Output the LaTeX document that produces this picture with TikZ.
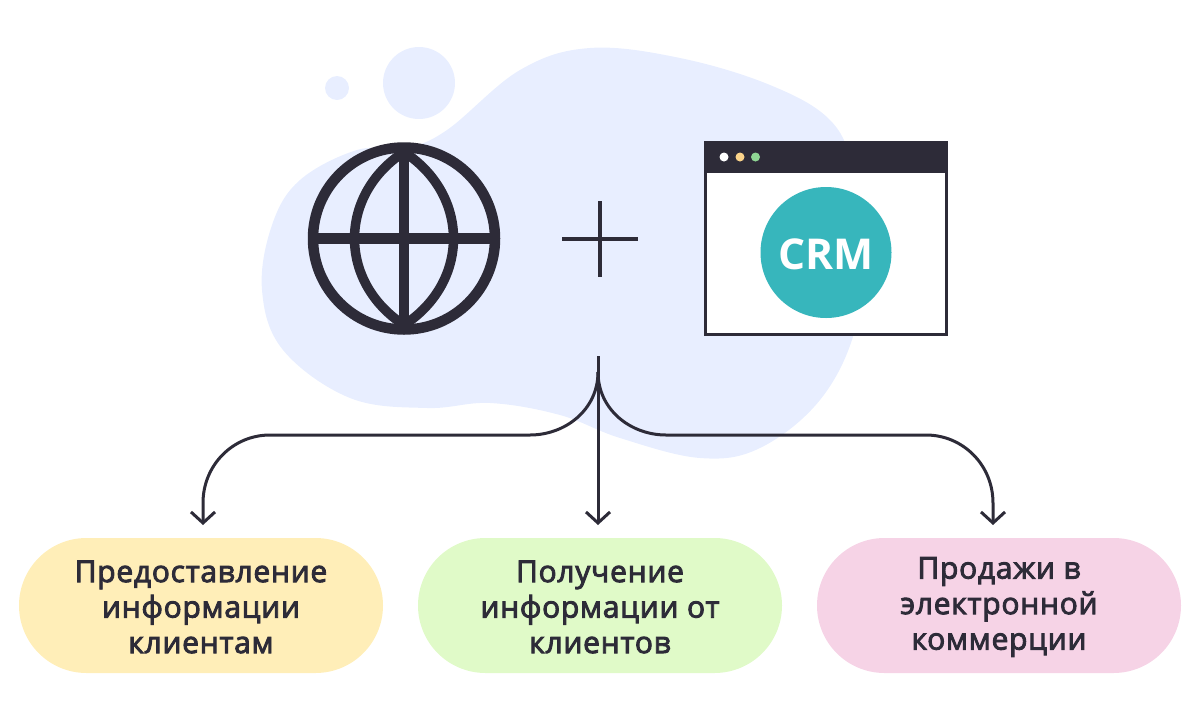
\documentclass[tikz,border=0pt]{standalone}
\usepackage{fontspec}
\setmainfont{Open Sans}
\newfontfamily\semib{Open Sans}[FakeBold=3,LetterSpace=2.4]
\usetikzlibrary{arrows.meta}
\definecolor{ink}{HTML}{2D2B38}
\definecolor{blob}{HTML}{E8EEFF}
\definecolor{teal}{HTML}{37B6BC}
\definecolor{pillY}{HTML}{FFEEB8}
\definecolor{pillG}{HTML}{E0FAC8}
\definecolor{pillP}{HTML}{F6D3E6}
\definecolor{dotY}{HTML}{FBD38A}
\definecolor{dotG}{HTML}{8FD694}
\tikzset{
  pill/.style={rounded corners=67.5pt,minimum width=364pt,minimum height=135pt,inner sep=0pt,align=center},
  pilltext/.style={align=center,inner sep=0pt,text=ink,font=\fontsize{30}{35.5}\selectfont\semib},
  link/.style={draw=ink,line width=3pt,-{Straight Barb[length=11pt,width=24pt,line width=3pt]}},
  globeline/.style={draw=ink,line width=10.5pt},
  plusline/.style={draw=ink,line width=4pt},
  dot/.style={circle,inner sep=0pt,minimum size=9pt},
}
\begin{document}
\begin{tikzpicture}[x=1pt,y=-1pt]
\useasboundingbox (0,0) rectangle (1200,702);
% blobs
\fill[blob] plot[smooth cycle,tension=0.62] coordinates {(447,130)(520,70)(590,48)(680,58)(770,85)(830,120)(853,170)(862,250)(855,330)(820,400)(760,448)(700,458)(620,438)(560,415)(490,403)(427,408)(350,398)(283,350)(262,290)(272,225)(300,180)(357,150)(405,148)};
\node[circle,fill=blob,minimum size=72pt,inner sep=0pt] (bubbleA) at (419,83) {};
\node[circle,fill=blob,minimum size=24pt,inner sep=0pt] (bubbleB) at (337,88) {};
% globe
\coordinate (gc) at (404,238.5);
\draw[globeline] (gc) circle (91pt);
\draw[globeline,line width=9.5pt] (404,152) .. controls (338,195) and (338,282) .. (404,325) .. controls (470,282) and (470,195) .. (404,152) -- cycle;
\draw[globeline] (404,147) -- (404,330);
\draw[globeline] (313,238.5) -- (495,238.5);
% plus
\draw[plusline] (600,201) -- (600,277);
\draw[plusline] (562,238.5) -- (638,238.5);
% window
\node[draw=ink,line width=3pt,fill=white,minimum width=241.5pt,minimum height=192.5pt,inner sep=0pt] (win) at (826,238.5) {};
\fill[ink] (704,141) rectangle (948,173);
\node[dot,fill=white] (d1) at (724,157) {};
\node[dot,fill=dotY] (d2) at (740,157) {};
\node[dot,fill=dotG] (d3) at (755.5,157) {};
\node[circle,fill=teal,minimum size=131pt,inner sep=0pt] (crm) at (826,252.5) {};
\node[text=white,inner sep=0pt,font=\fontsize{42.5}{43}\selectfont\bfseries] (crmtext) at (826,254.5) {CRM};
% pills
\node[pill,fill=pillY] (p1) at (201,605.5) {};
\node[pill,fill=pillG] (p2) at (600,605.5) {};
\node[pill,fill=pillP] (p3) at (999,605.5) {};
\node[pilltext] (t1a) at (201,607) {Предоставление\\информации\\клиентам};
\node[pilltext] (t2a) at (600,607) {Получение\\информации от\\клиентов};
\node[pilltext] (t3a) at (999,607) {Продажи в\\электронной\\коммерции};
% connectors
\coordinate (fork) at (598,356);
\coordinate (split) at (598,372);
\coordinate (t1) at (203,525);
\coordinate (t2) at (598,525);
\coordinate (t3) at (993,525);
\draw[link] (fork) -- (t2);
\draw[link] (split) .. controls (598,410) and (565,435) .. (530,435) -- (270,435) .. controls (233,435) and (203,465) .. (203,503) -- (t1);
\draw[link] (split) .. controls (598,410) and (631,435) .. (666,435) -- (926,435) .. controls (963,435) and (993,465) .. (993,503) -- (t3);
\end{tikzpicture}
\end{document}
